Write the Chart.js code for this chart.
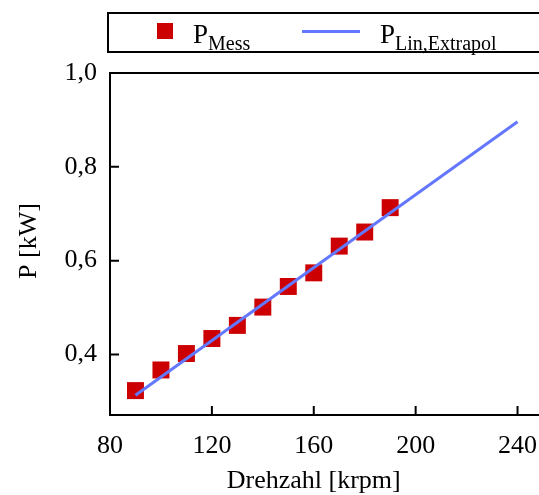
<!DOCTYPE html>
<html>
<head>
<meta charset="utf-8">
<script src="https://cdn.jsdelivr.net/npm/chart.js@4"></script>
<style>
  html, body { margin: 0; padding: 0; background: #fff; overflow: hidden; }
  #wrap { position: relative; width: 560px; height: 495px; }
  #legend {
    position: absolute; left: 107px; top: 12px; width: 470px; height: 37px;
    border: 2px solid #000; font-family: "Liberation Serif", serif; color: #000;
  }
  .lg { position: absolute; font-size: 27px; line-height: 1; }
  .lg sub { font-size: 20px; vertical-align: -7px; }
  .sq { position: absolute; left: 48px; top: 9px; width: 16px; height: 16px; background: #cc0000; }
  .ln { position: absolute; left: 193px; top: 16px; width: 58px; height: 3px; background: #6478ff; }
</style>
</head>
<body>
<div id="wrap">
  <canvas id="chart" width="560" height="495"></canvas>
  <div id="legend">
    <div class="sq"></div>
    <div class="lg" style="left:84px; top:7px;">P<sub>Mess</sub></div>
    <div class="ln"></div>
    <div class="lg" style="left:271px; top:7px;">P<sub>Lin,Extrapol</sub></div>
  </div>
</div>
<script>
// measured points
const rpmMess = [90, 100, 110, 120, 130, 140, 150, 160, 170, 180, 190];
const pMess = [0.323, 0.367, 0.402, 0.434, 0.462, 0.501, 0.545, 0.574, 0.631, 0.661, 0.713];
// linear extrapolation
const rpmLin = [90, 240];
const pLin = [0.313, 0.896];

const xTicks = [80, 120, 160, 200, 240];
const yTicks = [0.4, 0.6, 0.8, 1.0];
const xTitle = 'Drehzahl [krpm]';
const yTitle = 'P [kW]';

const FONT = '"Liberation Serif", serif';

const framePlugin = {
  id: 'frame',
  afterDraw(chart) {
    const { ctx, chartArea: a, scales } = chart;
    ctx.save();
    ctx.strokeStyle = '#000';
    ctx.lineWidth = 2;
    ctx.strokeRect(a.left, a.top, a.right - a.left, a.bottom - a.top);
    // inward ticks
    ctx.beginPath();
    scales.x.ticks.forEach(t => {
      const px = scales.x.getPixelForValue(t.value);
      ctx.moveTo(px, a.bottom);
      ctx.lineTo(px, a.bottom - 9);
    });
    scales.y.ticks.forEach(t => {
      const py = scales.y.getPixelForValue(t.value);
      ctx.moveTo(a.left, py);
      ctx.lineTo(a.left + 9, py);
    });
    ctx.stroke();
    // axis titles
    ctx.fillStyle = '#000';
    ctx.font = '26px ' + FONT;
    ctx.textAlign = 'center';
    ctx.textBaseline = 'alphabetic';
    ctx.fillText(xTitle, scales.x.getPixelForValue(160), 488);
    ctx.translate(36, (a.top + a.bottom) / 2 - 3);
    ctx.rotate(-Math.PI / 2);
    ctx.fillText(yTitle, 0, 0);
    ctx.restore();
  }
};

new Chart(document.getElementById('chart'), {
  type: 'scatter',
  data: {
    datasets: [
      {
        label: 'P_Mess',
        data: rpmMess.map((x, i) => ({ x: x, y: pMess[i] })),
        pointStyle: 'rect',
        pointRadius: 12,
        backgroundColor: '#cc0000',
        borderColor: '#cc0000',
        borderWidth: 0,
        order: 2
      },
      {
        label: 'P_Lin,Extrapol',
        data: rpmLin.map((x, i) => ({ x: x, y: pLin[i] })),
        showLine: true,
        pointRadius: 0,
        borderColor: '#6478ff',
        borderWidth: 3,
        order: 1
      }
    ]
  },
  options: {
    responsive: false,
    animation: false,
    clip: false,
    layout: { padding: { top: 73, right: 17, left: 0, bottom: 0 } },
    plugins: { legend: { display: false }, tooltip: { enabled: false } },
    scales: {
      x: {
        type: 'linear',
        min: 80,
        max: 250,
        grid: { display: false, drawTicks: false },
        border: { display: false },
        afterBuildTicks: s => { s.ticks = xTicks.map(v => ({ value: v })); },
        afterFit: s => { s.height = 80; },
        ticks: {
          padding: 16,
          color: '#000',
          font: { family: FONT, size: 26 },
          maxRotation: 0
        }
      },
      y: {
        type: 'linear',
        min: 0.271,
        max: 1.0,
        grid: { display: false, drawTicks: false },
        border: { display: false },
        afterBuildTicks: s => { s.ticks = yTicks.map(v => ({ value: v })); },
        afterFit: s => { s.width = 110; },
        ticks: {
          padding: 13,
          color: '#000',
          font: { family: FONT, size: 26 },
          callback: v => v.toFixed(1).replace('.', ',')
        }
      }
    }
  },
  plugins: [framePlugin]
});
</script>
</body>
</html>
